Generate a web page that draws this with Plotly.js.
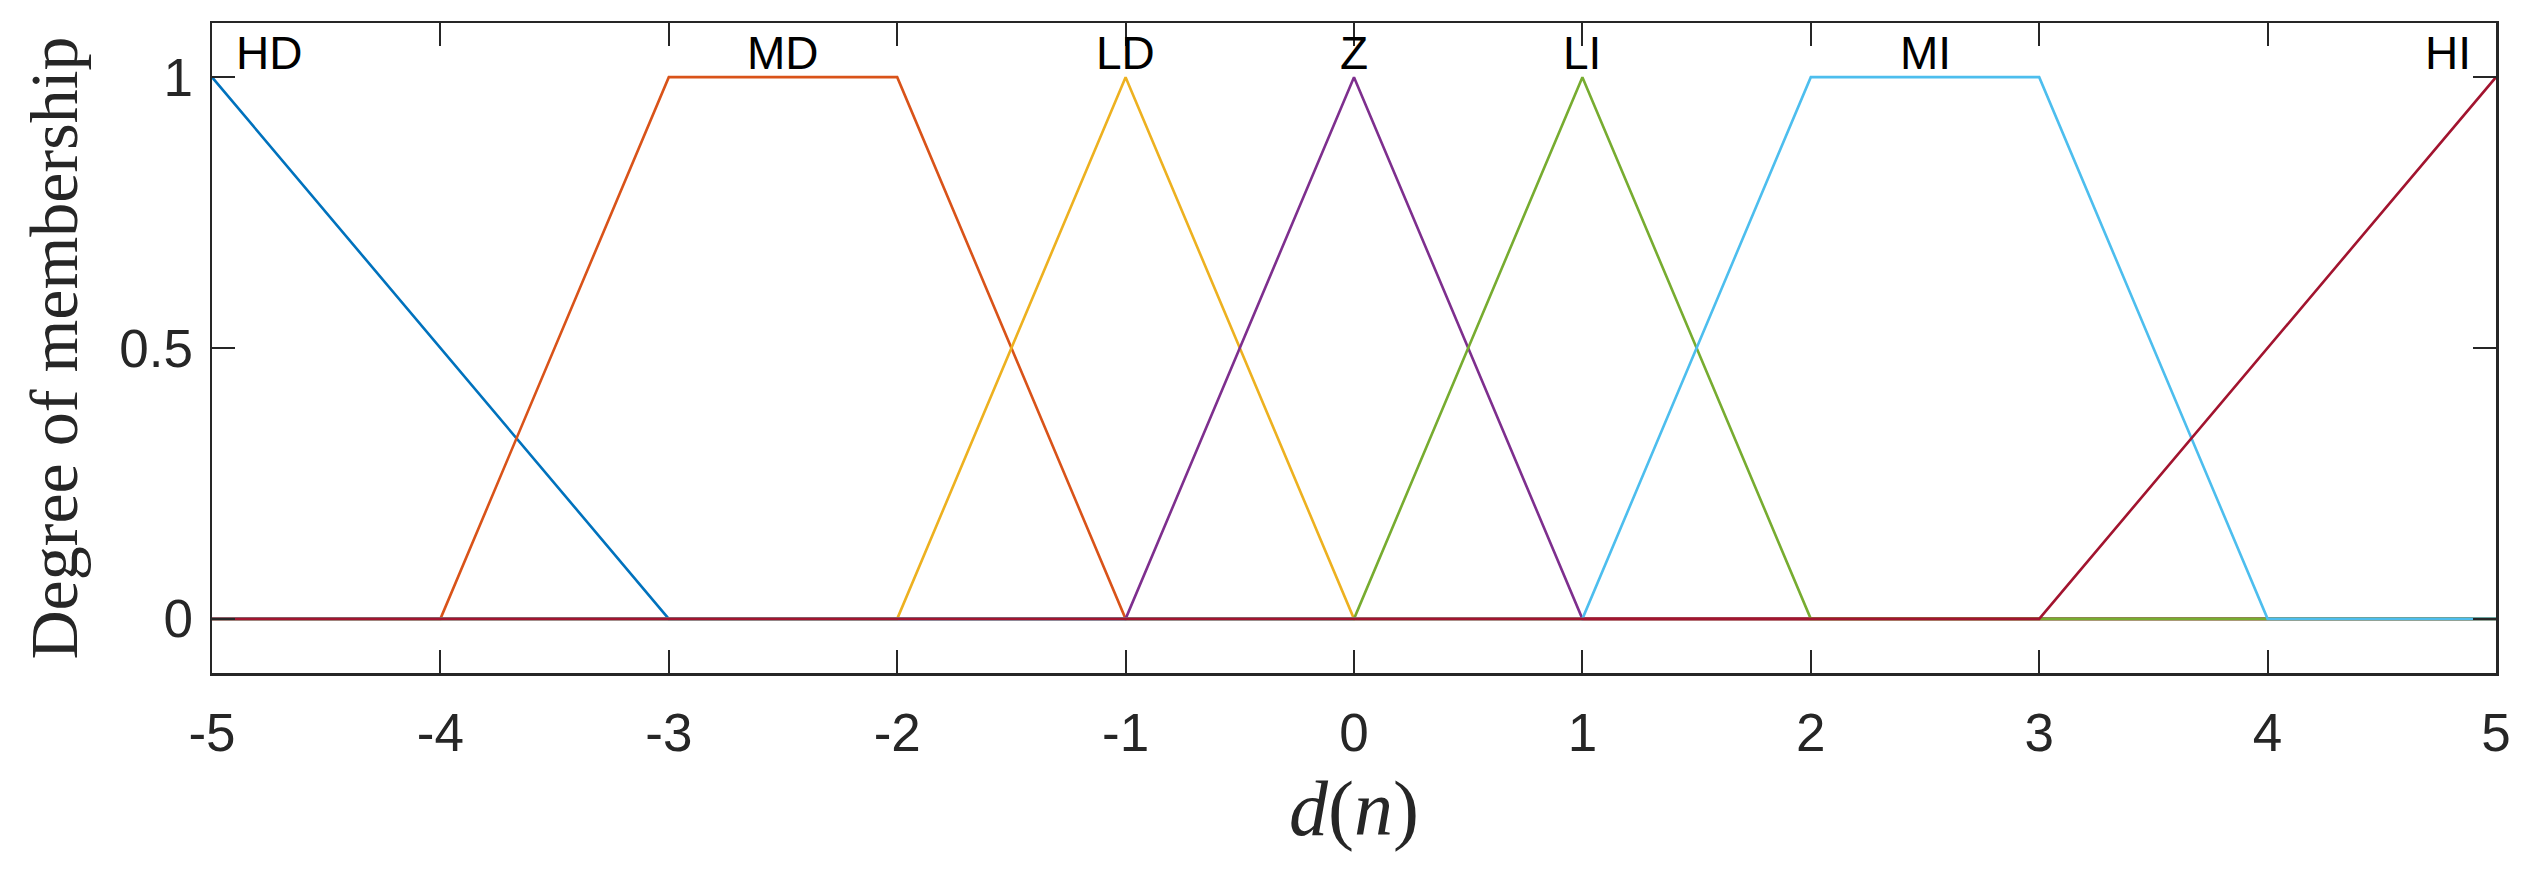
<!DOCTYPE html>
<html>
<head>
<meta charset="utf-8">
<script src="https://cdn.plot.ly/plotly-3.0.1.min.js"></script>
<style>html,body{margin:0;padding:0;background:#fff;}#chart{width:2543px;height:869px;}</style>
</head>
<body>
<div id="chart"></div>
<script>
// Membership function names
const mfNames = ["HD", "MD", "LD", "Z", "LI", "MI", "HI"];
// Breakpoints (x) and membership degrees (y) for each function
const hdX = [-5, -3, 5];            const hdY = [1, 0, 0];
const mdX = [-5, -4, -3, -2, -1, 5]; const mdY = [0, 0, 1, 1, 0, 0];
const ldX = [-5, -2, -1, 0, 5];      const ldY = [0, 0, 1, 0, 0];
const zX  = [-5, -1, 0, 1, 5];       const zY  = [0, 0, 1, 0, 0];
const liX = [-5, 0, 1, 2, 5];        const liY = [0, 0, 1, 0, 0];
const miX = [-5, 1, 2, 3, 4, 5];     const miY = [0, 0, 1, 1, 0, 0];
const hiX = [-5, 3, 5];              const hiY = [0, 0, 1];
// Label positions (x) for the names
const labelX = [-4.75, -2.5, -1, 0, 1, 2.5, 4.79];
// Tick values
const xTicks = [-5, -4, -3, -2, -1, 0, 1, 2, 3, 4, 5];
const yTicks = [0, 0.5, 1];
const yTickText = ["0", "0.5", "1"];

const colors = ["#0072BD", "#D95319", "#EDB120", "#7E2F8E", "#77AC30", "#4DBEEE", "#A2142F"];
const xs = [hdX, mdX, ldX, zX, liX, miX, hiX];
const ys = [hdY, mdY, ldY, zY, liY, miY, hiY];

const traces = mfNames.map((n, i) => ({
  type: "scatter", mode: "lines", name: n,
  x: xs[i], y: ys[i],
  line: {color: colors[i], width: 2.6},
  hoverinfo: "skip"
}));

const annotations = mfNames.map((n, i) => ({
  x: labelX[i], y: 1, xref: "x", yref: "y",
  text: n, showarrow: false, xanchor: "center", yanchor: "bottom",
  yshift: -4,
  font: {family: "Liberation Sans, Arial, sans-serif", size: 46, color: "#000000"}
}));

const axisCommon = {
  showgrid: false, zeroline: false, showline: true, linecolor: "#262626", linewidth: 2.5,
  mirror: "ticks", ticks: "inside", ticklen: 23, tickwidth: 2, tickcolor: "#262626",
  tickfont: {family: "Liberation Sans, Arial, sans-serif", size: 53, color: "#262626"}
};

const layout = {
  width: 2543, height: 869,
  margin: {l: 212, r: 47, t: 23, b: 196},
  paper_bgcolor: "#ffffff", plot_bgcolor: "#ffffff",
  showlegend: false,
  xaxis: Object.assign({}, axisCommon, {
    range: [-5, 5], tickvals: xTicks, ticktext: xTicks.map(String),
    ticklabelstandoff: 12,
    title: {text: "<i>d</i>(<i>n</i>)", standoff: 20,
      font: {family: "Liberation Serif, Times New Roman, serif", size: 78, color: "#262626"}}
  }),
  yaxis: Object.assign({}, axisCommon, {
    range: [-0.1, 1.1], tickvals: yTicks, ticktext: yTickText,
    ticklabelstandoff: 6,
    title: {text: "Degree of membership", standoff: 20,
      font: {family: "Liberation Serif, Times New Roman, serif", size: 68, color: "#262626"}}
  }),
  annotations: annotations
};

Plotly.newPlot("chart", traces, layout, {staticPlot: true, displayModeBar: false});
</script>
</body>
</html>
